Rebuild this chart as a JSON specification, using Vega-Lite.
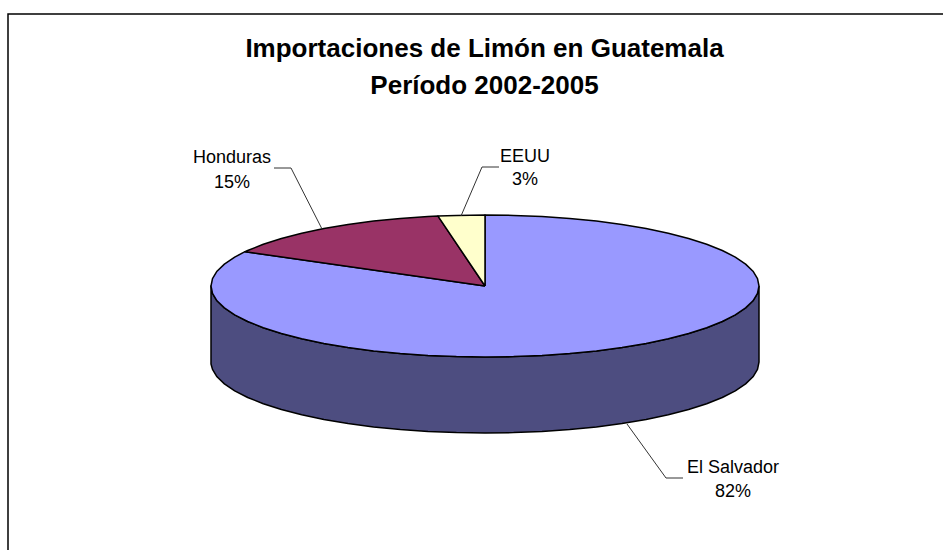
{
"$schema":"https://vega.github.io/schema/vega-lite/v6.json",
"width":943,"height":550,"padding":0,"autosize":"none","background":"white",
"title":{"text":["Importaciones de Limón en Guatemala","Período 2002-2005"],"anchor":"middle","frame":"group","offset":-120,"dx":13,"baseline":"alphabetic","lineHeight":37,"font":"Liberation Sans","fontSize":26,"fontWeight":"bold","color":"black"},
"config":{"view":{"stroke":null}},
"datasets":{
"shapes":[
{"part":"Side","seq":1,"x":759,"y":286},{"part":"Side","seq":2,"x":757.5,"y":293.4},{"part":"Side","seq":3,"x":753,"y":300.8},{"part":"Side","seq":4,"x":745.6,"y":307.9},{"part":"Side","seq":5,"x":735.3,"y":314.9},{"part":"Side","seq":6,"x":722.3,"y":321.5},{"part":"Side","seq":7,"x":706.7,"y":327.7},{"part":"Side","seq":8,"x":688.6,"y":333.5},{"part":"Side","seq":9,"x":668.3,"y":338.8},{"part":"Side","seq":10,"x":646.1,"y":343.4},{"part":"Side","seq":11,"x":622,"y":347.5},{"part":"Side","seq":12,"x":596.4,"y":350.9},{"part":"Side","seq":13,"x":569.7,"y":353.5},{"part":"Side","seq":14,"x":542,"y":355.4},{"part":"Side","seq":15,"x":513.6,"y":356.6},{"part":"Side","seq":16,"x":485,"y":357},{"part":"Side","seq":17,"x":456.4,"y":356.6},{"part":"Side","seq":18,"x":428,"y":355.4},{"part":"Side","seq":19,"x":400.3,"y":353.5},{"part":"Side","seq":20,"x":373.6,"y":350.9},{"part":"Side","seq":21,"x":348,"y":347.5},{"part":"Side","seq":22,"x":323.9,"y":343.4},{"part":"Side","seq":23,"x":301.7,"y":338.8},{"part":"Side","seq":24,"x":281.4,"y":333.5},{"part":"Side","seq":25,"x":263.3,"y":327.7},{"part":"Side","seq":26,"x":247.7,"y":321.5},{"part":"Side","seq":27,"x":234.7,"y":314.9},{"part":"Side","seq":28,"x":224.4,"y":307.9},{"part":"Side","seq":29,"x":217,"y":300.8},{"part":"Side","seq":30,"x":212.5,"y":293.4},{"part":"Side","seq":31,"x":211,"y":286},
{"part":"Side","seq":32,"x":211,"y":364},{"part":"Side","seq":33,"x":212.5,"y":369.4},{"part":"Side","seq":34,"x":217,"y":376.8},{"part":"Side","seq":35,"x":224.4,"y":383.9},{"part":"Side","seq":36,"x":234.7,"y":390.9},{"part":"Side","seq":37,"x":247.7,"y":397.5},{"part":"Side","seq":38,"x":263.3,"y":403.7},{"part":"Side","seq":39,"x":281.4,"y":409.5},{"part":"Side","seq":40,"x":301.7,"y":414.8},{"part":"Side","seq":41,"x":323.9,"y":419.4},{"part":"Side","seq":42,"x":348,"y":423.5},{"part":"Side","seq":43,"x":373.6,"y":426.9},{"part":"Side","seq":44,"x":400.3,"y":429.5},{"part":"Side","seq":45,"x":428,"y":431.4},{"part":"Side","seq":46,"x":456.4,"y":432.6},{"part":"Side","seq":47,"x":485,"y":433},{"part":"Side","seq":48,"x":513.6,"y":432.6},{"part":"Side","seq":49,"x":542,"y":431.4},{"part":"Side","seq":50,"x":569.7,"y":429.5},{"part":"Side","seq":51,"x":596.4,"y":426.9},{"part":"Side","seq":52,"x":622,"y":423.5},{"part":"Side","seq":53,"x":646.1,"y":419.4},{"part":"Side","seq":54,"x":668.3,"y":414.8},{"part":"Side","seq":55,"x":688.6,"y":409.5},{"part":"Side","seq":56,"x":706.7,"y":403.7},{"part":"Side","seq":57,"x":722.3,"y":397.5},{"part":"Side","seq":58,"x":735.3,"y":390.9},{"part":"Side","seq":59,"x":745.6,"y":383.9},{"part":"Side","seq":60,"x":753,"y":376.8},{"part":"Side","seq":61,"x":757.5,"y":369.4},{"part":"Side","seq":62,"x":759,"y":362},{"part":"Side","seq":63,"x":759,"y":286},
{"part":"El Salvador","seq":1,"x":485,"y":286},{"part":"El Salvador","seq":2,"x":485,"y":215},{"part":"El Salvador","seq":3,"x":513.6,"y":215.4},{"part":"El Salvador","seq":4,"x":542,"y":216.6},{"part":"El Salvador","seq":5,"x":569.7,"y":218.5},{"part":"El Salvador","seq":6,"x":596.4,"y":221.1},{"part":"El Salvador","seq":7,"x":622,"y":224.5},{"part":"El Salvador","seq":8,"x":646.1,"y":228.6},{"part":"El Salvador","seq":9,"x":668.3,"y":233.2},{"part":"El Salvador","seq":10,"x":688.6,"y":238.5},{"part":"El Salvador","seq":11,"x":706.7,"y":244.3},{"part":"El Salvador","seq":12,"x":722.3,"y":250.5},{"part":"El Salvador","seq":13,"x":735.3,"y":257.1},{"part":"El Salvador","seq":14,"x":745.6,"y":264.1},{"part":"El Salvador","seq":15,"x":753,"y":271.2},{"part":"El Salvador","seq":16,"x":757.5,"y":278.6},{"part":"El Salvador","seq":17,"x":759,"y":286},{"part":"El Salvador","seq":18,"x":757.5,"y":293.4},{"part":"El Salvador","seq":19,"x":753,"y":300.8},{"part":"El Salvador","seq":20,"x":745.6,"y":307.9},{"part":"El Salvador","seq":21,"x":735.3,"y":314.9},{"part":"El Salvador","seq":22,"x":722.3,"y":321.5},{"part":"El Salvador","seq":23,"x":706.7,"y":327.7},{"part":"El Salvador","seq":24,"x":688.6,"y":333.5},{"part":"El Salvador","seq":25,"x":668.3,"y":338.8},{"part":"El Salvador","seq":26,"x":646.1,"y":343.4},{"part":"El Salvador","seq":27,"x":622,"y":347.5},{"part":"El Salvador","seq":28,"x":596.4,"y":350.9},{"part":"El Salvador","seq":29,"x":569.7,"y":353.5},{"part":"El Salvador","seq":30,"x":542,"y":355.4},{"part":"El Salvador","seq":31,"x":513.6,"y":356.6},{"part":"El Salvador","seq":32,"x":485,"y":357},{"part":"El Salvador","seq":33,"x":456.4,"y":356.6},{"part":"El Salvador","seq":34,"x":428,"y":355.4},{"part":"El Salvador","seq":35,"x":400.3,"y":353.5},{"part":"El Salvador","seq":36,"x":373.6,"y":350.9},{"part":"El Salvador","seq":37,"x":348,"y":347.5},{"part":"El Salvador","seq":38,"x":323.9,"y":343.4},{"part":"El Salvador","seq":39,"x":301.7,"y":338.8},{"part":"El Salvador","seq":40,"x":281.4,"y":333.5},{"part":"El Salvador","seq":41,"x":263.3,"y":327.7},{"part":"El Salvador","seq":42,"x":247.7,"y":321.5},{"part":"El Salvador","seq":43,"x":234.7,"y":314.9},{"part":"El Salvador","seq":44,"x":224.4,"y":307.9},{"part":"El Salvador","seq":45,"x":217,"y":300.8},{"part":"El Salvador","seq":46,"x":212.5,"y":293.4},{"part":"El Salvador","seq":47,"x":211,"y":286},{"part":"El Salvador","seq":48,"x":212.5,"y":278.6},{"part":"El Salvador","seq":49,"x":217,"y":271.2},{"part":"El Salvador","seq":50,"x":224.4,"y":264.1},{"part":"El Salvador","seq":51,"x":234.7,"y":257.1},{"part":"El Salvador","seq":52,"x":245,"y":251.7},{"part":"El Salvador","seq":53,"x":485,"y":286},
{"part":"Honduras","seq":1,"x":485,"y":286},{"part":"Honduras","seq":2,"x":245,"y":251.7},{"part":"Honduras","seq":3,"x":247.7,"y":250.5},{"part":"Honduras","seq":4,"x":263.3,"y":244.3},{"part":"Honduras","seq":5,"x":281.4,"y":238.5},{"part":"Honduras","seq":6,"x":301.7,"y":233.2},{"part":"Honduras","seq":7,"x":323.9,"y":228.6},{"part":"Honduras","seq":8,"x":348,"y":224.5},{"part":"Honduras","seq":9,"x":373.6,"y":221.1},{"part":"Honduras","seq":10,"x":400.3,"y":218.5},{"part":"Honduras","seq":11,"x":428,"y":216.6},{"part":"Honduras","seq":12,"x":438,"y":216.1},{"part":"Honduras","seq":13,"x":485,"y":286},
{"part":"EEUU","seq":1,"x":485,"y":286},{"part":"EEUU","seq":2,"x":438,"y":216.1},{"part":"EEUU","seq":3,"x":456.4,"y":215.4},{"part":"EEUU","seq":4,"x":485,"y":215},{"part":"EEUU","seq":5,"x":485,"y":286}
],
"leaders":[
{"name":"Honduras","seq":1,"x":274,"y":168},{"name":"Honduras","seq":2,"x":291,"y":168},{"name":"Honduras","seq":3,"x":322,"y":229},
{"name":"EEUU","seq":1,"x":499,"y":167},{"name":"EEUU","seq":2,"x":482,"y":167},{"name":"EEUU","seq":3,"x":461,"y":216},
{"name":"El Salvador","seq":1,"x":683,"y":478},{"name":"El Salvador","seq":2,"x":666,"y":478},{"name":"El Salvador","seq":3,"x":627,"y":424}
],
"frame":[{"seq":1,"x":943,"y":14},{"seq":2,"x":8,"y":14},{"seq":3,"x":8,"y":550}],
"labels":[
{"label":"Honduras","x":232,"y":163},{"label":"15%","x":232,"y":188},
{"label":"EEUU","x":525,"y":162},{"label":"3%","x":525,"y":185},
{"label":"El Salvador","x":733,"y":473},{"label":"82%","x":733,"y":497}
]
},
"encoding":{
"x":{"field":"x","type":"quantitative","scale":{"domain":[0,943],"nice":false,"zero":false},"axis":null},
"y":{"field":"y","type":"quantitative","scale":{"domain":[550,0],"nice":false,"zero":false},"axis":null}
},
"layer":[
{"data":{"name":"frame"},"mark":{"type":"line","stroke":"black","strokeWidth":1.5,"clip":true},"encoding":{"order":{"field":"seq","type":"quantitative"}}},
{"data":{"name":"shapes"},"mark":{"type":"line","stroke":"black","strokeWidth":1.5,"strokeJoin":"round"},"encoding":{
"order":{"field":"seq","type":"quantitative"},
"detail":{"field":"part"},
"fill":{"field":"part","type":"nominal","legend":null,"sort":null,"scale":{"domain":["Side","El Salvador","Honduras","EEUU"],"range":["#4D4D80","#9999FF","#993366","#FFFFCC"]}}
}},
{"data":{"name":"leaders"},"mark":{"type":"line","stroke":"#333333","strokeWidth":1},"encoding":{"order":{"field":"seq","type":"quantitative"},"detail":{"field":"name"}}},
{"data":{"name":"labels"},"mark":{"type":"text","font":"Liberation Sans","fontSize":18,"align":"center","baseline":"alphabetic","color":"black"},"encoding":{"text":{"field":"label"}}}
]
}
